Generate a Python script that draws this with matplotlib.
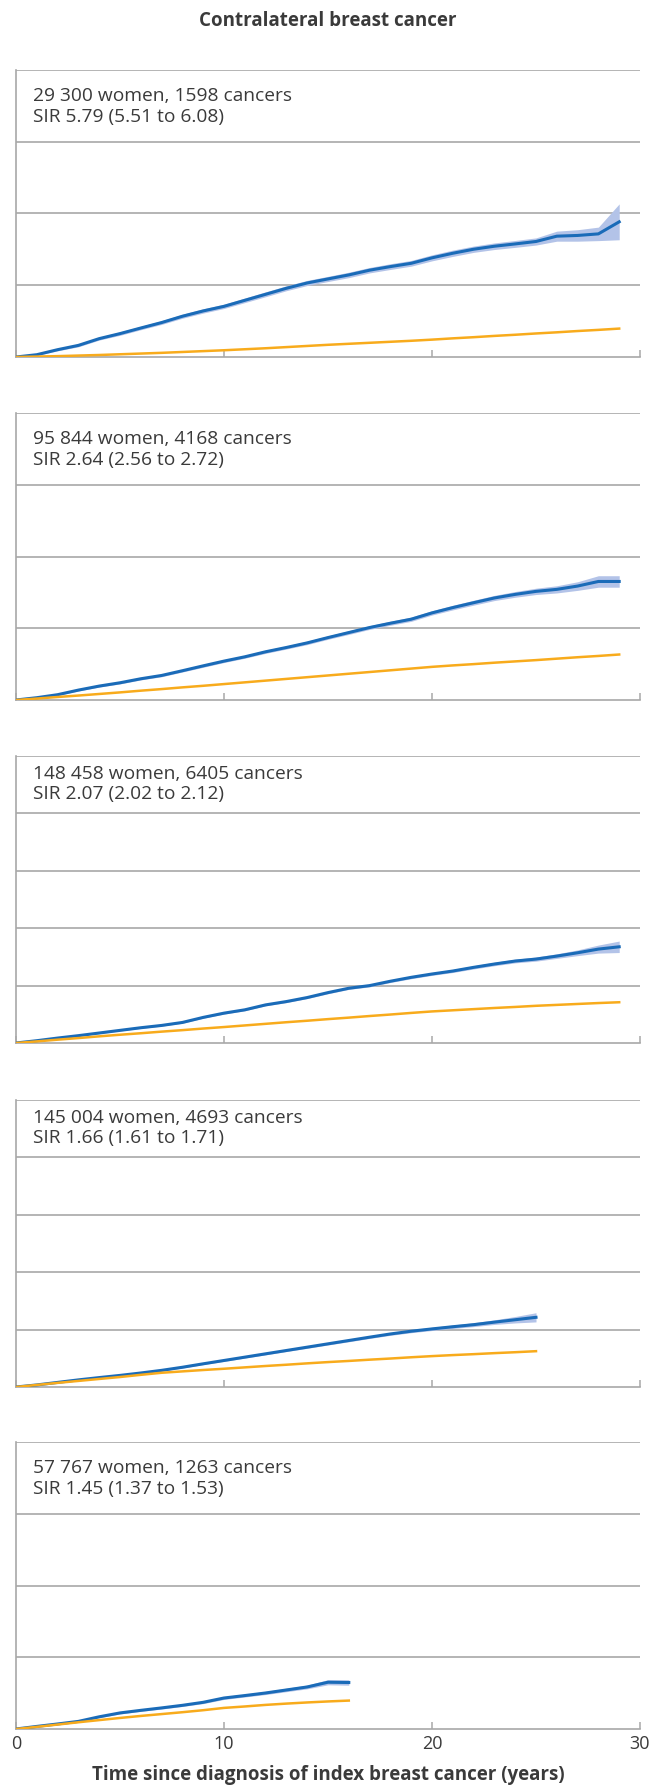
import matplotlib
matplotlib.use('Agg')
import matplotlib.pyplot as plt
import numpy as np

# data (units: one gridline step = 5)
years1 = list(range(0, 30))
blue1 = [0, 0.16, 0.51, 0.81, 1.28, 1.63, 2.02, 2.40, 2.84, 3.21, 3.53, 3.95, 4.37, 4.79, 5.16,
         5.44, 5.72, 6.05, 6.30, 6.53, 6.91, 7.23, 7.51, 7.72, 7.88, 8.05, 8.42, 8.47, 8.58, 9.42]
half1 = [0, 0.05, 0.08, 0.1, 0.1, 0.12, 0.12, 0.13, 0.14, 0.15, 0.15, 0.16, 0.17, 0.17, 0.18,
         0.18, 0.19, 0.19, 0.2, 0.2, 0.21, 0.22, 0.22, 0.23, 0.24, 0.25, 0.35, 0.4, 0.47, 1.25]
orange1 = [0, 0.03, 0.06, 0.10, 0.14, 0.19, 0.24, 0.29, 0.35, 0.41, 0.47, 0.54, 0.61, 0.69, 0.77,
           0.85, 0.92, 0.99, 1.06, 1.13, 1.21, 1.30, 1.38, 1.47, 1.55, 1.64, 1.72, 1.81, 1.89, 1.98]

years2 = list(range(0, 30))
blue2 = [0, 0.16, 0.37, 0.69, 0.97, 1.20, 1.48, 1.71, 2.04, 2.38, 2.71, 3.01, 3.36, 3.66, 3.98,
         4.35, 4.70, 5.05, 5.35, 5.63, 6.07, 6.44, 6.78, 7.11, 7.36, 7.57, 7.71, 7.94, 8.26, 8.26]
half2 = [0, 0.03, 0.05, 0.06, 0.07, 0.08, 0.08, 0.09, 0.09, 0.1, 0.1, 0.1, 0.11, 0.11, 0.12,
         0.12, 0.13, 0.13, 0.14, 0.15, 0.15, 0.16, 0.17, 0.18, 0.2, 0.22, 0.25, 0.3, 0.4, 0.4]
orange2 = [0, 0.10, 0.21, 0.31, 0.42, 0.53, 0.65, 0.76, 0.88, 0.99, 1.11, 1.23, 1.35, 1.47, 1.59,
           1.71, 1.83, 1.95, 2.07, 2.19, 2.31, 2.41, 2.50, 2.60, 2.69, 2.78, 2.88, 2.98, 3.07, 3.17]

years3 = list(range(0, 30))
blue3 = [0, 0.20, 0.43, 0.64, 0.87, 1.10, 1.33, 1.53, 1.79, 2.23, 2.60, 2.89, 3.32, 3.61, 3.96,
         4.39, 4.77, 5.00, 5.38, 5.72, 6.01, 6.27, 6.59, 6.88, 7.14, 7.31, 7.57, 7.86, 8.18, 8.38]
half3 = [0, 0.02, 0.03, 0.04, 0.05, 0.05, 0.06, 0.06, 0.07, 0.07, 0.08, 0.08, 0.08, 0.09, 0.09,
         0.1, 0.1, 0.11, 0.11, 0.12, 0.12, 0.13, 0.14, 0.15, 0.16, 0.18, 0.2, 0.25, 0.35, 0.5]
orange3 = [0, 0.14, 0.29, 0.43, 0.58, 0.72, 0.85, 0.99, 1.12, 1.26, 1.39, 1.53, 1.67, 1.81, 1.94,
           2.08, 2.21, 2.35, 2.48, 2.62, 2.75, 2.85, 2.95, 3.05, 3.14, 3.24, 3.32, 3.40, 3.48, 3.55]

years4 = list(range(0, 26))
blue4 = [0, 0.18, 0.40, 0.62, 0.82, 1.01, 1.22, 1.45, 1.72, 2.02, 2.31, 2.60, 2.89, 3.18, 3.47,
         3.76, 4.05, 4.34, 4.62, 4.86, 5.06, 5.25, 5.43, 5.65, 5.86, 6.07]
half4 = [0, 0.02, 0.03, 0.04, 0.05, 0.05, 0.06, 0.06, 0.07, 0.07, 0.08, 0.08, 0.09, 0.09, 0.1,
         0.1, 0.11, 0.11, 0.12, 0.13, 0.14, 0.15, 0.17, 0.2, 0.28, 0.4]
orange4 = [0, 0.18, 0.36, 0.53, 0.70, 0.87, 1.06, 1.24, 1.36, 1.48, 1.59, 1.71, 1.83, 1.94, 2.06,
           2.17, 2.27, 2.38, 2.48, 2.59, 2.69, 2.78, 2.86, 2.95, 3.03, 3.12]

years5 = list(range(0, 17))
blue5 = [0, 0.18, 0.35, 0.53, 0.85, 1.12, 1.30, 1.47, 1.65, 1.86, 2.16, 2.33, 2.51, 2.72, 2.93, 3.26, 3.24]
half5 = [0, 0.03, 0.04, 0.05, 0.06, 0.07, 0.07, 0.08, 0.08, 0.09, 0.1, 0.1, 0.11, 0.12, 0.13, 0.18, 0.19]
orange5 = [0, 0.15, 0.31, 0.47, 0.62, 0.77, 0.91, 1.04, 1.17, 1.31, 1.47, 1.57, 1.68, 1.77, 1.85, 1.92, 1.98]

line1 = ['29 300 women, 1598 cancers', '95 844 women, 4168 cancers', '148 458 women, 6405 cancers',
         '145 004 women, 4693 cancers', '57 767 women, 1263 cancers']
line2 = ['SIR 5.79 (5.51 to 6.08)', 'SIR 2.64 (2.56 to 2.72)', 'SIR 2.07 (2.02 to 2.12)',
         'SIR 1.66 (1.61 to 1.71)', 'SIR 1.45 (1.37 to 1.53)']
ymax = [20, 20, 25, 25, 20]
xticks = [0, 10, 20, 30]

panels = [(years1, blue1, half1, orange1), (years2, blue2, half2, orange2),
          (years3, blue3, half3, orange3), (years4, blue4, half4, orange4),
          (years5, blue5, half5, orange5)]

plt.rcParams['font.family'] = ['Open Sans', 'DejaVu Sans']
BLUE = '#1a6bb8'
BAND = '#b3c3e8'
ORANGE = '#f8ab1c'
GREY = '#a8a8a8'
TXT = '#3a3a3a'

W, H = 649, 1787
fig = plt.figure(figsize=(W / 100, H / 100), dpi=100)

bottoms = [357, 700, 1043, 1387, 1729]
ph = 287
for i, (yrs, b, h, o) in enumerate(panels):
    ax = fig.add_axes([16 / W, 1 - bottoms[i] / H, 624 / W, ph / H])
    b = np.array(b)
    h = np.array(h)
    ax.fill_between(yrs, b - h, b + h, color=BAND, lw=0, zorder=2)
    ax.plot(yrs, b, color=BLUE, lw=2.2, zorder=3)
    ax.plot(yrs, o, color=ORANGE, lw=1.8, zorder=4)
    ax.set_xlim(0, 30)
    ax.set_ylim(0, ymax[i])
    ax.set_yticks(np.arange(5, ymax[i] + 1, 5))
    ax.yaxis.grid(True, color=GREY, lw=1.2)
    ax.set_axisbelow(True)
    ax.tick_params(axis='y', length=0, labelleft=False)
    ax.set_xticks(xticks)
    ax.tick_params(axis='x', direction='in', length=5, width=1.1, color=GREY,
                   labelsize=13, labelcolor=TXT, pad=4)
    if i < 4:
        ax.tick_params(axis='x', labelbottom=False)
    for s in ['top', 'right']:
        ax.spines[s].set_visible(False)
    for s in ['left', 'bottom']:
        ax.spines[s].set_color(GREY)
        ax.spines[s].set_linewidth(1.2)
    if ymax[i] == 20:
        t1, t2 = 26, 47
    else:
        t1, t2 = 17.7, 38.5
    ax.text(17 / 624, 1 - t1 / ph, line1[i], transform=ax.transAxes, va='center',
            fontsize=13.8, color=TXT)
    ax.text(17 / 624, 1 - t2 / ph, line2[i], transform=ax.transAxes, va='center',
            fontsize=13.8, color=TXT)

fig.text(328 / W, 1 - 20.7 / H, 'Contralateral breast cancer', ha='center', va='center',
         fontsize=13.5, fontweight='bold', color=TXT)
fig.text(328 / W, 1 - 1775 / H, 'Time since diagnosis of index breast cancer (years)',
         ha='center', va='center', fontsize=13.5, fontweight='bold', color=TXT)

fig.savefig('out.png', dpi=100)
